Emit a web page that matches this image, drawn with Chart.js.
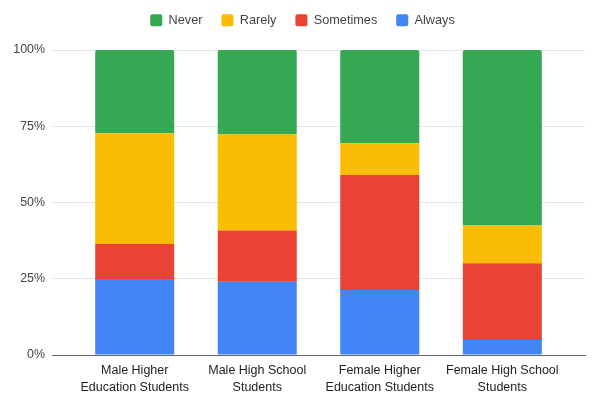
<!DOCTYPE html>
<html>
<head>
<meta charset="utf-8">
<script src="https://cdn.jsdelivr.net/npm/chart.js@4/dist/chart.umd.min.js"></script>
<style>
  html, body { margin: 0; padding: 0; background: #fff; }
  #wrap { width: 591px; height: 394px; }
</style>
</head>
<body>
<div id="wrap"><canvas id="freqChart"></canvas></div>
<script>
// Share of answers per group (percent), bottom segment first
const categories = [
  ['Male Higher', 'Education Students'],
  ['Male High School', 'Students'],
  ['Female Higher', 'Education Students'],
  ['Female High School', 'Students']
];
const always    = [24.9, 24.0, 21.3, 4.9];
const sometimes = [11.5, 16.8, 37.7, 25.2];
const rarely    = [36.3, 31.6, 10.4, 12.4];
const never     = [27.3, 27.6, 30.6, 57.5];
const yTicks = [0, 25, 50, 75, 100];

function toPoints(values) {
  return values.map((v, i) => ({ x: i, y: v }));
}

const fontFamily = '"Liberation Sans", Arial, sans-serif';

// fixed legend block height, and the legend centred over the plot area
const legendPlace = {
  id: 'legendPlace',
  beforeLayout(chart) {
    const lg = chart.legend;
    if (lg && !lg._fixed) {
      const fit = lg.fit.bind(lg);
      lg.fit = function () { fit(); this.height = 55; };
      lg._fixed = true;
    }
  },
  afterLayout(chart) {
    const lg = chart.legend;
    if (lg) {
      lg.left += 10;
      lg.right += 10;
    }
  }
};

const ctx = document.getElementById('freqChart').getContext('2d');
new Chart(ctx, {
  type: 'bar',
  plugins: [legendPlace],
  data: {
    datasets: [
      { label: 'Always',    data: toPoints(always),    backgroundColor: '#4285F4' },
      { label: 'Sometimes', data: toPoints(sometimes), backgroundColor: '#EA4335' },
      { label: 'Rarely',    data: toPoints(rarely),    backgroundColor: '#FBBC04' },
      { label: 'Never',     data: toPoints(never),     backgroundColor: '#34A853',
        borderRadius: { topLeft: 2, topRight: 2, bottomLeft: 0, bottomRight: 0 }, borderSkipped: false }
    ]
  },
  options: {
    responsive: true,
    maintainAspectRatio: false,
    animation: false,
    layout: { padding: { top: -5, right: 6, bottom: 0, left: 0 } },
    datasets: {
      bar: { categoryPercentage: 1, barPercentage: 0.645 }
    },
    plugins: {
      legend: {
        position: 'top',
        reverse: true,
        labels: {
          boxWidth: 12,
          boxHeight: 12,
          padding: 19,
          color: '#444',
          font: { family: fontFamily, size: 12.7 },
          useBorderRadius: true,
          borderRadius: 2
        }
      },
      tooltip: { enabled: false }
    },
    scales: {
      x: {
        type: 'linear',
        stacked: true,
        offset: false,
        min: -0.675,
        max: 3.675,
        afterBuildTicks: axis => { axis.ticks = categories.map((c, i) => ({ value: i })); },
        afterFit: axis => { axis.height = 39; },
        ticks: {
          color: '#222',
          font: { family: fontFamily, size: 12.5, lineHeight: 1.34 },
          padding: 7,
          maxRotation: 0,
          autoSkip: false,
          callback: value => categories[value]
        },
        grid: { display: false, drawTicks: false },
        border: { display: true, color: '#666', width: 1 }
      },
      y: {
        stacked: true,
        min: 0,
        max: 100,
        afterBuildTicks: axis => { axis.ticks = yTicks.map(v => ({ value: v })); },
        afterFit: axis => { axis.width = 52; },
        ticks: {
          color: '#444',
          font: { family: fontFamily, size: 12.4 },
          padding: 7,
          callback: value => value + '%'
        },
        grid: { color: '#e3e3e3', drawTicks: false },
        border: { display: false }
      }
    }
  }
});
</script>
</body>
</html>
